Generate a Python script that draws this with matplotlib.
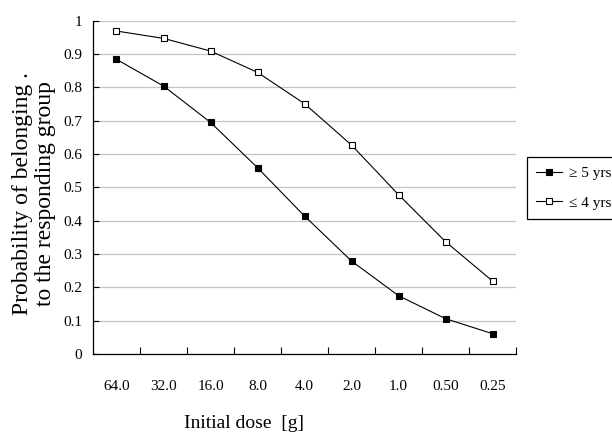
import matplotlib
matplotlib.use("Agg")
import matplotlib.pyplot as plt
import numpy as np

doses = ["64.0", "32.0", "16.0", "8.0", "4.0", "2.0", "1.0", "0.50", "0.25"]
older = [0.884, 0.804, 0.695, 0.559, 0.414, 0.279, 0.175, 0.106, 0.061]   # >= 5 yrs
younger = [0.969, 0.947, 0.909, 0.845, 0.751, 0.627, 0.478, 0.337, 0.219]  # <= 4 yrs
yticks = [0, 0.1, 0.2, 0.3, 0.4, 0.5, 0.6, 0.7, 0.8, 0.9, 1]
ytick_labels = ["0", "0.1", "0.2", "0.3", "0.4", "0.5", "0.6", "0.7", "0.8", "0.9", "1"]

plt.rcParams['font.family'] = ['Liberation Serif', 'DejaVu Serif']

W, H = 612, 434
fig = plt.figure(figsize=(W / 100, H / 100), dpi=100)
ax = fig.add_axes([93 / W, (H - 354) / H, (516 - 93) / W, (354 - 20.7) / H])

x = np.arange(len(doses))
ax.plot(x, older, color='black', lw=0.8, marker='s', ms=4.5,
        mfc='black', mec='black', mew=0.8, label='≥ 5 yrs', zorder=3)
ax.plot(x, younger, color='black', lw=0.8, marker='s', ms=4.5,
        mfc='white', mec='black', mew=0.8, label='≤ 4 yrs', zorder=3)

ax.set_yticks(yticks)
ax.set_yticklabels(ytick_labels, fontsize=11)
ax.yaxis.grid(True, color='#c4c4c4', lw=0.9)
ax.set_axisbelow(True)

ax.set_xticks(np.arange(1, len(doses) + 1) - 0.5)
ax.set_xticklabels([])
ax.set_xticks(x, minor=True)
ax.set_xticklabels(doses, minor=True, fontsize=11)
ax.tick_params(axis='x', which='major', direction='in', length=5, width=0.8)
ax.tick_params(axis='x', which='minor', length=0, pad=19)
ax.tick_params(axis='y', direction='in', length=4, width=0.8, pad=8)

ax.set_xlim(-0.5, len(doses) - 0.5)
ax.set_ylim(0, 1)

for s in ['top', 'right']:
    ax.spines[s].set_visible(False)
for s in ['left', 'bottom']:
    ax.spines[s].set_linewidth(0.9)

fig.text(34 / W, 1 - 194 / H, "Probability of belonging .\nto the responding group",
         rotation=90, ha='center', va='center', fontsize=17, multialignment='center',
         linespacing=1.15)
fig.text(244 / W, 1 - 423 / H, "Initial dose  [g]", ha='center', va='center', fontsize=14)

leg = fig.legend(loc='upper left', bbox_to_anchor=(527 / W, 1 - 157 / H), fontsize=11,
                 frameon=True, fancybox=False, edgecolor='black', framealpha=1,
                 handlelength=1.7, handletextpad=0.45, borderpad=0.6, labelspacing=1.05,
                 borderaxespad=0)
leg.get_frame().set_linewidth(0.9)

fig.savefig("out.png", dpi=100)
